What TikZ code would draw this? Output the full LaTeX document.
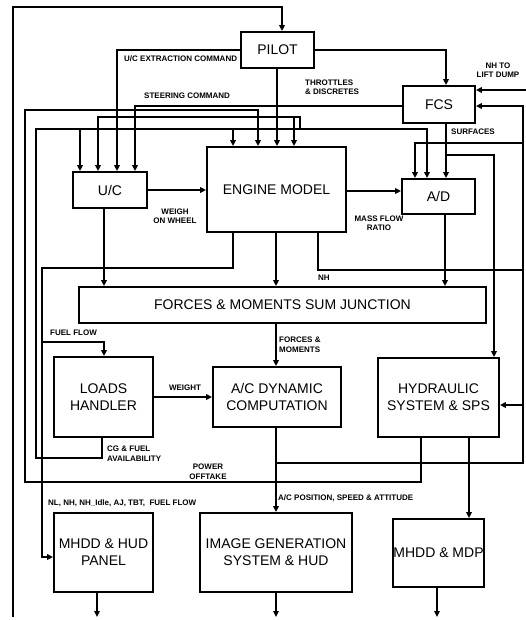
\documentclass[tikz,border=0pt]{standalone}
\usepackage{fontspec}
\setmainfont{Liberation Sans}
\usetikzlibrary{arrows.meta}
\begin{document}
\begin{tikzpicture}[x=1pt,y=-1pt,
  box/.style={draw, line width=1.8pt, inner sep=0pt, align=center, font=\fontsize{14}{17}\selectfont},
  lbl/.style={inner sep=0pt, align=left, font=\fontsize{8}{9.5}\selectfont\bfseries},
  ln/.style={line width=1.8pt},
  arr/.style={ln, -{Triangle[length=6pt,width=5.5pt]}},
]
\useasboundingbox (0,0) rectangle (526,620);

% boxes
\node[box, minimum width=73pt, minimum height=36pt] (pilot) at (277.5,50) {PILOT};
\node[box, minimum width=72pt, minimum height=37pt] (fcs) at (439,104.5) {FCS};
\node[box, minimum width=74pt, minimum height=36pt] (uc) at (110,190) {U/C};
\node[box, minimum width=139pt, minimum height=85pt] (engine) at (276.5,189.5) {ENGINE MODEL};
\node[box, minimum width=73pt, minimum height=35pt] (ad) at (438.5,196.5) {A/D};
\node[box, minimum width=407pt, minimum height=36pt] (forces) at (282.5,305) {FORCES \& MOMENTS SUM JUNCTION};
\node[box, minimum width=99pt, minimum height=80pt] (loads) at (103.5,397) {LOADS\\HANDLER};
\node[box, minimum width=128pt, minimum height=60pt] (acdyn) at (277,397) {A/C DYNAMIC\\COMPUTATION};
\node[box, minimum width=121pt, minimum height=79pt] (hyd) at (438.5,397.5) {HYDRAULIC\\SYSTEM \& SPS};
\node[box, minimum width=99pt, minimum height=79pt] (mhddhud) at (103.5,552.5) {MHDD \& HUD\\PANEL};
\node[box, minimum width=152pt, minimum height=79pt] (imggen) at (276,552.5) {IMAGE GENERATION\\SYSTEM \& HUD};
\node[box, minimum width=91pt, minimum height=68pt] (mhddmdp) at (438.5,553) {MHDD \& MDP};

% outer loop into pilot
\coordinate (o1) at (13,617);
\coordinate (o2) at (13,7);
\coordinate (o3) at (282,7);
\draw[arr] (o1) -- (o2) -- (o3) -- (pilot.north -| o3);

% pilot -> fcs
\coordinate (p1) at (446,50);
\draw[arr] (pilot.east |- p1) -- (p1) -- (fcs.north -| p1);

% pilot -> u/c extraction command
\coordinate (p2) at (117,50);
\draw[arr] (pilot.west |- p2) -- (p2) -- (uc.north -| p2);

% pilot -> engine
\coordinate (p3) at (277,0);
\draw[arr] (pilot.south -| p3) -- (engine.north -| p3);

% steering command
\coordinate (s1) at (135,106);
\draw[arr] (fcs.west |- s1) -- (s1) -- (uc.north -| s1);

% throttles branch
\coordinate (q1) at (98,117);
\coordinate (q2) at (300,117);
\coordinate (q3) at (300,129);
\coordinate (q4) at (294,117);
\draw[arr] (q3) -- (q2) -- (q1) -- (uc.north -| q1);
\draw[arr] (q4) -- (engine.north -| q4);

% CG & fuel availability
\coordinate (c1) at (102,458);
\coordinate (c2) at (36,458);
\coordinate (c3) at (36,129);
\coordinate (c4) at (427,129);
\coordinate (c5) at (80,129);
\coordinate (c6) at (233,129);
\draw[arr] (loads.south -| c1) -- (c1) -- (c2) -- (c3) -- (c4) -- (ad.north -| c4);
\draw[arr] (c5) -- (uc.north -| c5);
\draw[arr] (c6) -- (engine.north -| c6);

% power offtake
\coordinate (w1) at (421,482);
\coordinate (w2) at (25,482);
\coordinate (w3) at (25,110);
\coordinate (w4) at (258,110);
\draw[arr] (hyd.south -| w1) -- (w1) -- (w2) -- (w3) -- (w4) -- (engine.north -| w4);

% A/C output and right bus
\coordinate (r0) at (276,463);
\coordinate (r1) at (523,463);
\coordinate (r2) at (523,106);
\coordinate (r3) at (523,405);
\coordinate (r4) at (523,143);
\coordinate (r5) at (415,143);
\draw[arr] (acdyn.south -| r0) -- (imggen.north -| r0);
\draw[arr] (r0) -- (r1) -- (r2) -- (fcs.east |- r2);
\draw[arr] (r3) -- (hyd.east |- r3);
\draw[arr] (r4) -- (r5) -- (ad.north -| r5);

% NH
\coordinate (n1) at (318,270);
\coordinate (n2) at (523,270);
\draw[ln] (engine.south -| n1) -- (n1) -- (n2);

% NH to lift dump
\coordinate (d1) at (526,90);
\draw[arr] (d1) -- (fcs.east |- d1);

% surfaces
\coordinate (f1) at (446,155);
\coordinate (f2) at (494,155);
\draw[arr] (fcs.south -| f1) -- (ad.north -| f1);
\draw[arr] (f1) -- (f2) -- (hyd.north -| f2);

% U/C -> engine, engine -> A/D
\draw[arr] (uc.east) -- (engine.west |- uc.east);
\coordinate (e1) at (0,191);
\draw[arr] (engine.east |- e1) -- (ad.west |- e1);

% into forces
\coordinate (g1) at (104,0);
\coordinate (g2) at (276,0);
\coordinate (g3) at (445,0);
\draw[arr] (uc.south -| g1) -- (forces.north -| g1);
\draw[arr] (engine.south -| g2) -- (forces.north -| g2);
\draw[arr] (ad.south -| g3) -- (forces.north -| g3);

% engine -> panels, fuel flow
\coordinate (h1) at (233,268);
\coordinate (h2) at (42,268);
\coordinate (h3) at (42,557);
\coordinate (h4) at (42,342);
\coordinate (h5) at (104,342);
\draw[arr] (engine.south -| h1) -- (h1) -- (h2) -- (h3) -- (mhddhud.west |- h3);
\draw[arr] (h4) -- (h5) -- (loads.north -| h5);

% forces -> A/C dynamic, loads -> A/C dynamic
\draw[arr] (forces.south -| g2) -- (acdyn.north -| g2);
\draw[arr] (loads.east) -- (acdyn.west |- loads.east);

% hydraulic -> MHDD & MDP
\coordinate (k1) at (469,0);
\draw[arr] (hyd.south -| k1) -- (mhddmdp.north -| k1);

% outputs
\coordinate (z1) at (97,617);
\coordinate (z2) at (276,617);
\coordinate (z3) at (437,617);
\draw[arr] (mhddhud.south -| z1) -- (z1);
\draw[arr] (imggen.south -| z2) -- (z2);
\draw[arr] (mhddmdp.south -| z3) -- (z3);

% labels
\node[lbl, anchor=west] (lb1) at (124,59) {U/C EXTRACTION COMMAND};
\node[lbl, anchor=west] (lb2) at (144,96) {STEERING COMMAND};
\node[lbl, anchor=west] (lb3) at (305,87) {THROTTLES\\\& DISCRETES};
\node[lbl, align=center] (lb4) at (498,70) {NH TO\\LIFT DUMP};
\node[lbl, anchor=west] (lb5) at (451,132) {SURFACES};
\node[lbl, align=center] (lb6) at (175,216) {WEIGH\\ON WHEEL};
\node[lbl, align=center] (lb7) at (379,223) {MASS FLOW\\RATIO};
\node[lbl, anchor=west] (lb8) at (318,278) {NH};
\node[lbl, anchor=west] (lb9) at (50,333) {FUEL FLOW};
\node[lbl, anchor=west] (lb10) at (279,344.5) {FORCES \&\\MOMENTS};
\node[lbl] (lb11) at (185,388) {WEIGHT};
\node[lbl, anchor=west] (lb12) at (107,453.5) {CG \& FUEL\\AVAILABILITY};
\node[lbl, align=center] (lb13) at (208,471.5) {POWER\\OFFTAKE};
\node[lbl, anchor=west] (lb14) at (48,503) {NL, NH, NH\_Idle, AJ, TBT,~ FUEL FLOW};
\node[lbl, anchor=west] (lb15) at (278,498) {A/C POSITION, SPEED \& ATTITUDE};
\end{tikzpicture}
\end{document}
